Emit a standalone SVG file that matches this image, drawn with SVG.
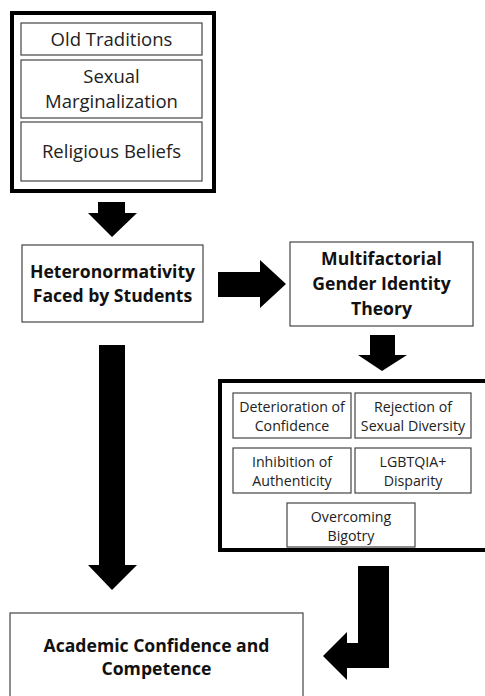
<svg xmlns="http://www.w3.org/2000/svg" width="485" height="696" viewBox="0 0 485 696">
<style>
.thick{fill:#fff;stroke:#000;stroke-width:4}
.box{fill:#fff;stroke:#444;stroke-width:1.2}
.t{font-family:"Open Sans","Liberation Sans",sans-serif;fill:#222;text-anchor:middle}
.r16{font-size:18.5px}
.b16{font-size:17.6px;font-weight:bold;fill:#111}
.r12{font-size:14.2px}
.arr{fill:#000}
</style>
<rect width="485" height="696" fill="#fff"/>
<g id="causes">
<rect class="thick" x="12" y="13" width="202" height="178"/>
<g id="old-traditions"><rect class="box" x="21" y="23" width="181" height="32"/><text class="t r16" x="111.5" y="46">Old Traditions</text></g>
<g id="sexual-marginalization"><rect class="box" x="21" y="60" width="181" height="58"/><text class="t r16" x="111.5" y="83">Sexual</text><text class="t r16" x="111.5" y="108">Marginalization</text></g>
<g id="religious-beliefs"><rect class="box" x="21" y="122" width="181" height="59"/><text class="t r16" x="111.5" y="158">Religious Beliefs</text></g>
</g>
<g id="heteronormativity"><rect class="box" x="22" y="245" width="181" height="77"/><text class="t b16" x="112.5" y="278">Heteronormativity</text><text class="t b16" x="112.5" y="302">Faced by Students</text></g>
<g id="multifactorial"><rect class="box" x="290" y="242" width="183" height="84"/><text class="t b16" x="381.5" y="265">Multifactorial</text><text class="t b16" x="381.5" y="290">Gender Identity</text><text class="t b16" x="381.5" y="315">Theory</text></g>
<g id="effects">
<rect class="thick" x="220" y="381" width="270" height="169"/>
<g id="deterioration"><rect class="box" x="233" y="393" width="118" height="45"/><text class="t r12" x="292" y="412">Deterioration of</text><text class="t r12" x="292" y="431">Confidence</text></g>
<g id="rejection"><rect class="box" x="355" y="393" width="116" height="45"/><text class="t r12" x="413" y="412">Rejection of</text><text class="t r12" x="413" y="431">Sexual Diversity</text></g>
<g id="inhibition"><rect class="box" x="233" y="448" width="118" height="45"/><text class="t r12" x="292" y="467">Inhibition of</text><text class="t r12" x="292" y="486">Authenticity</text></g>
<g id="lgbtqia"><rect class="box" x="355" y="448" width="116" height="45"/><text class="t r12" x="413" y="467">LGBTQIA+</text><text class="t r12" x="413" y="486">Disparity</text></g>
<g id="overcoming"><rect class="box" x="287" y="503" width="128" height="44"/><text class="t r12" x="351" y="522">Overcoming</text><text class="t r12" x="351" y="541">Bigotry</text></g>
</g>
<g id="academic"><rect class="box" x="10" y="613" width="293" height="100"/><text class="t b16" x="156.5" y="652">Academic Confidence and</text><text class="t b16" x="156.5" y="675">Competence</text></g>
<g id="connectors">
<polygon class="arr" points="98,202 125,202 125,213 137,213 112,237 88,213 98,213"/>
<polygon class="arr" points="218,272 260,272 260,260 286,284 260,308 260,297 218,297"/>
<polygon class="arr" points="370,335 395,335 395,355 407,355 382,371 358,355 370,355"/>
<polygon class="arr" points="99,345 125,345 125,565 137,565 112,590 88,565 99,565"/>
<polygon class="arr" points="358,566 389,566 389,668 347,668 347,680 323,656 347,632 347,643 358,643"/>
</g>
</svg>
